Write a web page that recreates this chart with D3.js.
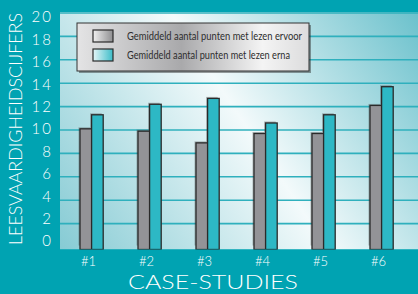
<!DOCTYPE html>
<html>
<head>
<meta charset="utf-8">
<script src="https://cdn.jsdelivr.net/npm/d3@7"></script>
<style>
  html, body { margin: 0; padding: 0; background: #00a3b2; }
  svg { display: block; }
</style>
</head>
<body>
<svg id="chart" width="418" height="294"></svg>
<script>
// data
const categories = ['#1', '#2', '#3', '#4', '#5', '#6'];
const seriesNames = [
    'Gemiddeld aantal punten met lezen ervoor',
    'Gemiddeld aantal punten met lezen erna'
];
const voorValues = [10.1, 9.9, 8.9, 9.7, 9.7, 12.1];
const naValues = [11.3, 12.2, 12.7, 10.6, 11.3, 13.7];
const yTicks = [0, 2, 4, 6, 8, 10, 12, 14, 16, 18, 20];

const svg = d3.select('#chart');
const W = 418, H = 294;
const plot = { left: 60, top: 12, right: 418, bottom: 249.5 };

const fillColors = ['#939397', '#2db8c5'];
const lightFont = '"Lato Light", Lato, sans-serif';

const defs = svg.append('defs');
const bg = defs.append('linearGradient').attr('id', 'bgGrad')
    .attr('gradientUnits', 'userSpaceOnUse')
    .attr('x1', 60).attr('y1', 250).attr('x2', 418).attr('y2', 12);
bg.append('stop').attr('offset', 0).attr('stop-color', '#86cbd4');
bg.append('stop').attr('offset', 0.52).attr('stop-color', '#f3fafb');
bg.append('stop').attr('offset', 1).attr('stop-color', '#6bc1cc');

const legGrad = defs.append('linearGradient').attr('id', 'legGrad')
    .attr('x1', 0).attr('y1', 0).attr('x2', 1).attr('y2', 0);
legGrad.append('stop').attr('offset', 0).attr('stop-color', '#e4e4e5');
legGrad.append('stop').attr('offset', 0.45).attr('stop-color', '#a9a9ab');
legGrad.append('stop').attr('offset', 0.8).attr('stop-color', '#f4f4f4');
legGrad.append('stop').attr('offset', 1).attr('stop-color', '#dcdcdd');

const swGrey = defs.append('linearGradient').attr('id', 'swGrey')
    .attr('x1', 0).attr('y1', 0).attr('x2', 1).attr('y2', 0);
swGrey.append('stop').attr('offset', 0).attr('stop-color', '#f0f0f0');
swGrey.append('stop').attr('offset', 1).attr('stop-color', '#8e8e90');
const swTeal = defs.append('linearGradient').attr('id', 'swTeal')
    .attr('x1', 0).attr('y1', 0).attr('x2', 1).attr('y2', 0);
swTeal.append('stop').attr('offset', 0).attr('stop-color', '#e6f6f8');
swTeal.append('stop').attr('offset', 1).attr('stop-color', '#3bbcc8');

// background
svg.append('rect').attr('width', W).attr('height', H).attr('fill', '#00a3b2');
svg.append('rect')
    .attr('x', plot.left).attr('y', plot.top)
    .attr('width', plot.right - plot.left).attr('height', plot.bottom - plot.top)
    .attr('fill', 'url(#bgGrad)');

// scales
const yScale = d3.scaleLinear().domain([0, 20]).range([247, 13]);
// tick labels in the original sit on a slightly tighter scale than the grid
const yLabelScale = d3.scaleLinear().domain([0, 20]).range([240.5, 16.5]);

const xScale = d3.scaleBand()
    .domain(categories)
    .range([62.6, 410.6])
    .paddingInner(0.6)
    .paddingOuter(0.3);
const xSub = d3.scaleBand()
    .domain([0, 1])
    .range([0, xScale.bandwidth()]);

// grid
svg.append('g').selectAll('line')
    .data(yTicks.filter(d => d > 0))
    .join('line')
    .attr('x1', plot.left).attr('x2', plot.right)
    .attr('y1', d => yScale(d)).attr('y2', d => yScale(d))
    .attr('stroke', '#2fb0bd')
    .attr('stroke-width', 1.6);

// y labels
const yAxis = d3.axisLeft(yLabelScale).tickValues(yTicks).tickSize(0).tickPadding(0);
const yG = svg.append('g').attr('transform', 'translate(53,0)').call(yAxis);
yG.select('.domain').remove();
yG.selectAll('text')
    .attr('fill', '#ffffff')
    .attr('font-family', lightFont)
    .attr('font-weight', 300)
    .attr('font-size', 15)
    .attr('letter-spacing', 2)
    .attr('dy', '0.36em');

// bars
const rows = categories.map((c, i) => ({ cat: c, vals: [voorValues[i], naValues[i]] }));
const groups = svg.append('g').selectAll('g')
    .data(rows)
    .join('g')
    .attr('transform', d => `translate(${xScale(d.cat)},0)`);

// soft shadow
groups.selectAll('rect.shadow')
    .data(d => d.vals.map((v, k) => ({ v, k })))
    .join('rect')
    .attr('class', 'shadow')
    .attr('x', d => xSub(d.k) - 1.5)
    .attr('y', d => yScale(d.v) - 1.5)
    .attr('width', xSub.bandwidth())
    .attr('height', d => yScale(0) - yScale(d.v))
    .attr('fill', 'rgba(60,60,60,0.35)');

groups.selectAll('rect.bar')
    .data(d => d.vals.map((v, k) => ({ v, k })))
    .join('rect')
    .attr('class', 'bar')
    .attr('x', d => xSub(d.k))
    .attr('y', d => yScale(d.v))
    .attr('width', xSub.bandwidth())
    .attr('height', d => plot.bottom - yScale(d.v))
    .attr('fill', d => fillColors[d.k])
    .attr('stroke', '#2a2a2a')
    .attr('stroke-width', 1.3);

// re-cover bottom so bars end at plot edge
svg.append('rect')
    .attr('x', 0).attr('y', plot.bottom)
    .attr('width', W).attr('height', H - plot.bottom)
    .attr('fill', '#00a3b2');

// x labels
const xAxis = d3.axisBottom(xScale).tickSize(0).tickPadding(0);
const xG = svg.append('g').attr('transform', 'translate(-3,257)').call(xAxis);
xG.select('.domain').remove();
xG.selectAll('text')
    .attr('fill', '#ffffff')
    .attr('font-family', lightFont)
    .attr('font-weight', 300)
    .attr('font-size', 13);

// axis titles
svg.append('text')
    .attr('x', 213).attr('y', 289)
    .attr('text-anchor', 'middle')
    .attr('fill', '#ffffff')
    .attr('font-family', lightFont)
    .attr('font-weight', 300)
    .attr('font-size', 20)
    .attr('textLength', 170)
    .attr('lengthAdjust', 'spacingAndGlyphs')
    .text('CASE-STUDIES');

svg.append('text')
    .attr('transform', 'translate(22,129) rotate(-90)')
    .attr('text-anchor', 'middle')
    .attr('fill', '#ffffff')
    .attr('font-family', lightFont)
    .attr('font-weight', 300)
    .attr('font-size', 18)
    .attr('textLength', 232)
    .attr('lengthAdjust', 'spacingAndGlyphs')
    .text('LEESVAARDIGHEIDSCIJFERS');

// legend
const leg = svg.append('g').attr('transform', 'translate(77,23)');
leg.append('rect')
    .attr('x', 2).attr('y', 2).attr('width', 232).attr('height', 48)
    .attr('fill', 'rgba(40,40,40,0.45)');
leg.append('rect')
    .attr('width', 232).attr('height', 48)
    .attr('fill', 'url(#legGrad)')
    .attr('stroke', '#333333').attr('stroke-width', 1);
const legItems = leg.selectAll('g.item')
    .data(seriesNames)
    .join('g')
    .attr('class', 'item')
    .attr('transform', (d, i) => `translate(16,${7 + i * 19})`);
legItems.append('rect')
    .attr('width', 20).attr('height', 12)
    .attr('fill', (d, i) => i === 0 ? 'url(#swGrey)' : 'url(#swTeal)')
    .attr('stroke', '#2a2a2a').attr('stroke-width', 1.2);
legItems.append('text')
    .attr('x', 34).attr('y', 9.5)
    .attr('fill', '#2e2e2e')
    .attr('font-family', 'Lato, sans-serif')
    .attr('font-size', 10.5)
    .attr('textLength', (d, i) => i === 0 ? 175 : 163)
    .attr('lengthAdjust', 'spacingAndGlyphs')
    .text(d => d);
</script>
</body>
</html>
